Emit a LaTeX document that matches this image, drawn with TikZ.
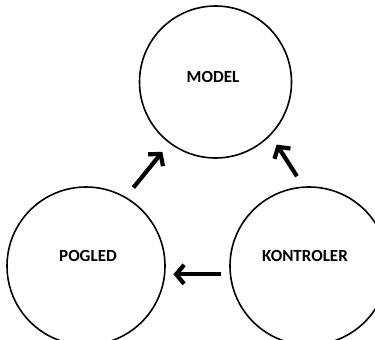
\documentclass[tikz,border=0pt]{standalone}
\usepackage{fontspec}
\setmainfont{Carlito}
\usetikzlibrary{arrows.meta}
\begin{document}
\begin{tikzpicture}[x=1pt,y=-1pt,
  blob/.style={circle,draw=black,line width=1.6pt,fill=white,inner sep=0pt},
  lbl/.style={font=\fontsize{17}{19}\selectfont\bfseries,inner sep=0pt},
  flow/.style={line width=4.2pt,-{Straight Barb[length=8pt,width=19pt]},
    shorten <=12pt,shorten >=11pt}]
\useasboundingbox (0,0) rectangle (375,340);
\node[blob,minimum size=152pt] (model) at (215.5,82) {};
\node[blob,minimum size=158pt] (pogled) at (86,266) {};
\node[blob,minimum size=158pt] (kontroler) at (309,266) {};
\node[lbl] (tmodel) at (213,77) {MODEL};
\node[lbl] (tpogled) at (88,256) {POGLED};
\node[lbl] (tkontroler) at (305,256) {KONTROLER};
\draw[flow] (pogled.60) -- (model.233);
\draw[flow] (kontroler.94) -- (model.316);
\draw[flow,shorten <=9pt,shorten >=8pt] (kontroler.186) -- (pogled.-6);
\end{tikzpicture}
\end{document}
